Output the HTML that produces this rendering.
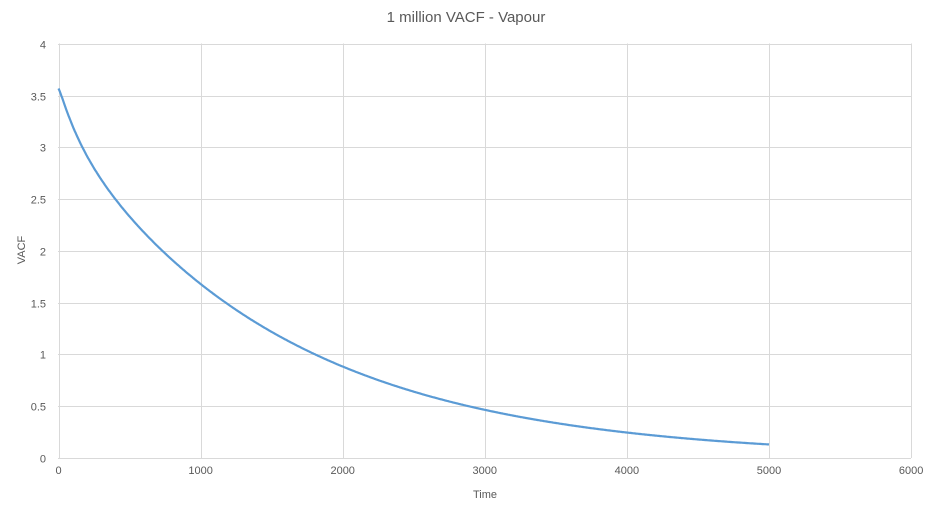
<!DOCTYPE html>
<html><head><meta charset="utf-8"><style>
html,body{margin:0;padding:0;background:#fff;}
svg{display:block;font-family:"Liberation Sans",sans-serif;}
</style></head><body>
<svg id="c" width="932" height="507" xmlns="http://www.w3.org/2000/svg">
<rect width="932" height="507" fill="#fff"/>
<text x="466" y="22" text-anchor="middle" font-size="15" fill="#595959">1 million VACF - Vapour</text>
<g id="grid" stroke="#d9d9d9" stroke-width="1"></g>
<g id="lbl" font-size="11" fill="#595959"></g>
<text x="485" y="498" text-anchor="middle" font-size="11" fill="#595959">Time</text>
<text transform="translate(25,250) rotate(-90)" text-anchor="middle" font-size="11" fill="#595959">VACF</text>
<polyline id="curve" fill="none" stroke="#5b9bd5" stroke-width="2.2" stroke-linejoin="round"/>
</svg>
<script>
var x0=58.5,sx=142.1/1000,y0=457.6,sy=103.4;
var g=document.getElementById('grid'),l=document.getElementById('lbl'),ns='http://www.w3.org/2000/svg';
function el(p,t,a){var e=document.createElementNS(ns,t);for(var k in a)e.setAttribute(k,a[k]);p.appendChild(e);return e;}
for(var i=0;i<=6;i++){var x=Math.round(x0+i*1000*sx)+0.5;el(g,'line',{x1:x,x2:x,y1:43.5,y2:458});
var t=el(l,'text',{x:x0+i*1000*sx,y:474,'text-anchor':'middle'});t.textContent=i*1000;}
for(var j=0;j<=8;j++){var v=j*0.5,y=Math.round(y0-v*sy)+0.5;el(g,'line',{x1:58,x2:911,y1:y,y2:y});
var t=el(l,'text',{x:46,y:y+4,'text-anchor':'end'});t.textContent=v;}
var pts=[];
for(var tt=0;tt<=5000;tt+=5){var f=Math.exp(-tt/150);var r=1-Math.exp(-tt/15);
var v=3.2*Math.exp(-tt/1550)+0.4*f-0.03*(1-r);
pts.push((x0+tt*sx).toFixed(1)+','+(y0-v*sy).toFixed(1));}
document.getElementById('curve').setAttribute('points',pts.join(' '));
</script>
</body></html>
